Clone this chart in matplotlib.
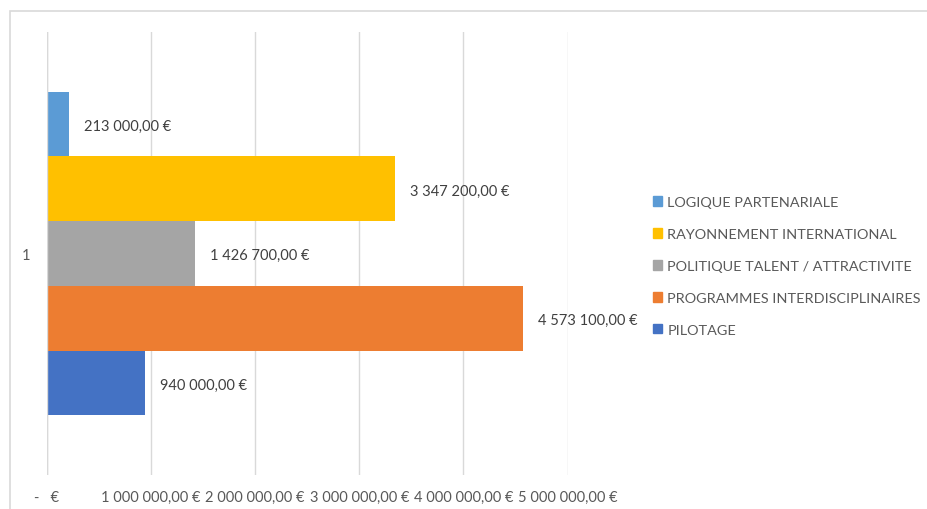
import numpy as np
import matplotlib.pyplot as plt
from matplotlib.patches import Rectangle, Patch

# series, bottom to top (as Excel stacks them)
series = ["PILOTAGE", "PROGRAMMES INTERDISCIPLINAIRES", "POLITIQUE TALENT / ATTRACTIVITE",
          "RAYONNEMENT INTERNATIONAL", "LOGIQUE PARTENARIALE"]
values = [940000, 4573100, 1426700, 3347200, 213000]
colors = ["#4472C4", "#ED7D31", "#A5A5A5", "#FFC000", "#5B9BD5"]
category = "1"
xticks = [0, 1000000, 2000000, 3000000, 4000000, 5000000]


def euro(v):
    if v == 0:
        return "-   €"
    s = f"{v:,.2f}".replace(",", " ").replace(".", ",")
    return s + " €"


plt.rcParams['font.family'] = ['Lato', 'DejaVu Sans']
txt = "#595959"
W, H = 928, 510
fig = plt.figure(figsize=(W / 100, H / 100), dpi=100)

# chart border
fig.patches.append(Rectangle((10 / W, -0.1), 1.0, (H - 12) / H + 0.1, transform=fig.transFigure,
                             fill=False, edgecolor="#D9D9D9", lw=1.2))

x0, x1, ytop, ybot = 46.7, 567.7, 33, 476
ax = fig.add_axes([x0 / W, (H - ybot) / H, (x1 - x0) / W, (ybot - ytop) / H])
n = len(series)
bh = 0.146
offs = (np.arange(n) - (n - 1) / 2) * bh
for i in range(n):
    ax.barh(1 + offs[i], values[i], height=bh, color=colors[i], zorder=3)
    ax.text(values[i], 1 + offs[i] - 0.004, "    " + euro(values[i]), va="center", ha="left",
            fontsize=10.5, color="#404040")

ax.set_xlim(0, 5000000)
ax.set_ylim(0.5, 1.5)
ax.set_xticks(xticks)
ax.set_xticklabels([euro(v) for v in xticks], fontsize=10.5, color=txt)
ax.set_yticks([1])
ax.set_yticklabels([category], fontsize=10.5, color=txt)
ax.tick_params(axis="x", length=0, pad=11)
ax.tick_params(axis="y", length=0, pad=12)
ax.grid(axis="x", color="#D9D9D9", lw=1, zorder=0)
for s in ax.spines.values():
    s.set_visible(False)
ax.axvline(0, color="#D9D9D9", lw=1, zorder=4)

handles = [Patch(color=colors[i], label=series[i]) for i in range(n)][::-1]
fig.legend(handles=handles, loc="upper left", bbox_to_anchor=(640 / W, 1 - 184 / H),
           frameon=False, fontsize=10.4, labelcolor=txt, handlelength=0.65, handleheight=0.65,
           handletextpad=0.35, labelspacing=1.38)

fig.savefig("out.png", dpi=100, facecolor="white")
